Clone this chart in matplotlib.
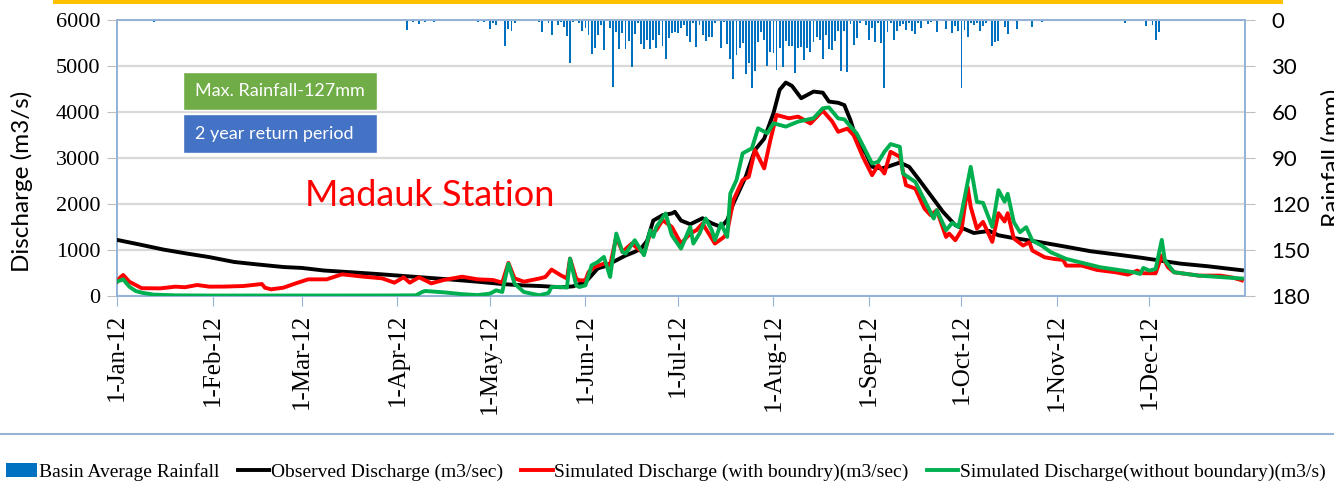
import matplotlib
matplotlib.use('Agg')
import matplotlib.pyplot as plt
import matplotlib.dates as mdates
from matplotlib.patches import Rectangle, Patch
from matplotlib.lines import Line2D
from matplotlib.font_manager import FontProperties
import pandas as pd

# ---------------- data (day offset from 1-Jan-2012, value) ----------------
obs_day = [0, 8, 15, 22, 30, 38, 45, 54, 60, 67, 75, 84, 92, 99, 108, 117, 125, 132, 138, 144,
           148, 150, 152, 154, 156, 158, 161, 165, 168, 170, 172, 174, 177, 180, 181, 183, 186,
           190, 193, 196, 198, 200, 204, 207, 210, 213, 215, 217, 219, 222, 226, 229, 231, 234,
           236, 238, 240, 243, 245, 248, 250, 254, 257, 260, 264, 268, 272, 278, 283, 286, 290,
           299, 308, 316, 324, 332, 339, 345, 354, 365]
obs_val = [1220, 1110, 1010, 930, 845, 740, 690, 630, 610, 555, 520, 480, 440, 405, 360, 311,
           260, 230, 215, 190, 210, 260, 300, 450, 600, 640, 740, 880, 960, 1030, 1200, 1640,
           1757, 1794, 1830, 1640, 1560, 1690, 1580, 1500, 1650, 2012, 2593, 3174, 3420, 3972,
           4481, 4640, 4568, 4300, 4444, 4420, 4227, 4200, 4150, 3820, 3390, 3100, 2810, 2770,
           2810, 2900, 2810, 2550, 2190, 1830, 1540, 1370, 1415, 1320, 1270, 1176, 1070, 972,
           905, 835, 765, 704, 646, 560]

sim_b_day = [0, 1, 2, 4, 8, 14, 19, 22, 26, 30, 35, 41, 47, 48, 50, 54, 58, 62, 68, 73, 80, 86,
             90, 93, 95, 98, 102, 106, 112, 117, 122, 125, 127, 129, 132, 137, 139, 141, 144,
             146, 147, 149, 150, 152, 153, 155, 158, 160, 162, 164, 167, 171, 173, 175, 177, 180,
             183, 186, 188, 190, 192, 194, 197, 198, 200, 203, 205, 207, 210, 212, 214, 218, 221,
             225, 229, 232, 234, 237, 239, 242, 245, 247, 249, 251, 254, 256, 259, 262, 264, 266,
             269, 270, 272, 274, 276, 277, 279, 281, 284, 286, 288, 289, 291, 294, 296, 297, 301,
             304, 307, 308, 313, 318, 324, 328, 331, 333, 337, 339, 341, 343, 351, 358, 362, 365]
sim_b_val = [310, 400, 457, 311, 170, 166, 203, 190, 239, 203, 205, 217, 261, 180, 145, 181, 275,
             362, 362, 471, 420, 384, 290, 406, 290, 406, 275, 348, 420, 362, 348, 290, 720, 384,
             311, 380, 414, 574, 450, 380, 813, 378, 341, 341, 520, 632, 704, 668, 1285, 959,
             1140, 922, 1358, 1431, 1649, 1503, 1140, 1358, 1431, 1576, 1358, 1140, 1285, 1394,
             2084, 2520, 2593, 3174, 2774, 3391, 3936, 3863, 3900, 3750, 4030, 3800, 3570, 3640,
             3498, 3026, 2627, 2845, 2663, 3135, 3026, 2409, 2337, 1901, 1756, 1865, 1284, 1357,
             1212, 1430, 2373, 1938, 1466, 1611, 1176, 1800, 1620, 1800, 1250, 1097, 1169, 988,
             842, 806, 784, 661, 661, 566, 516, 465, 552, 494, 494, 880, 625, 516, 443, 443, 400,
             340]

sim_nb_day = [0, 2, 4, 6, 8, 12, 19, 30, 50, 70, 90, 97, 99, 100, 106, 112, 117, 121, 123, 125,
              127, 129, 132, 137, 140, 141, 144, 146, 147, 149, 150, 152, 154, 156, 158, 160, 162,
              164, 165, 168, 171, 173, 174, 175, 178, 180, 183, 186, 187, 189, 191, 193, 194, 196,
              198, 199, 201, 203, 206, 208, 211, 213, 217, 221, 226, 229, 231, 234, 236, 240, 245,
              247, 249, 251, 254, 255, 259, 262, 265, 266, 269, 271, 273, 274, 277, 279, 281, 284,
              286, 288, 289, 291, 293, 295, 297, 300, 303, 308, 319, 330, 332, 333, 335, 337, 339,
              340, 343, 351, 365]
sim_nb_val = [311, 362, 203, 110, 72, 29, 14, 10, 10, 10, 12, 15, 87, 109, 80, 40, 20, 51, 123,
              87, 704, 269, 87, 15, 65, 196, 196, 182, 813, 232, 196, 232, 668, 741, 850, 414,
              1358, 959, 922, 1213, 886, 1431, 1285, 1503, 1794, 1322, 1031, 1503, 1140, 1358,
              1685, 1431, 1213, 1576, 1285, 2229, 2520, 3101, 3210, 3646, 3537, 3755, 3682, 3791,
              3863, 4081, 4100, 3861, 3839, 3534, 2881, 2917, 3135, 3302, 3244, 2663, 2482, 2083,
              1684, 1865, 1430, 1589, 1502, 1792, 2808, 2046, 2025, 1502, 2300, 2050, 2222, 1605,
              1387, 1496, 1205, 1097, 951, 806, 625, 516, 479, 610, 552, 588, 1220, 770, 516, 443,
              380]

rain_day = [12, 15, 63, 72, 94, 96, 98, 100, 103, 104, 117, 119, 121, 122, 123, 126, 127, 128,
            129, 137, 138, 140, 141, 143, 144, 145, 146, 147, 148, 150, 151, 152, 153, 154, 155,
            156, 157, 158, 160, 161, 162, 163, 164, 165, 166, 167, 168, 169, 170, 171, 172, 173,
            174, 175, 176, 177, 178, 179, 180, 181, 182, 183, 184, 185, 186, 187, 188, 189, 190,
            191, 192, 193, 194, 195, 196, 197, 198, 199, 200, 201, 202, 203, 204, 205, 206, 207,
            208, 209, 210, 211, 212, 213, 214, 215, 216, 217, 218, 219, 220, 221, 222, 223, 224,
            225, 226, 227, 228, 229, 230, 231, 232, 233, 234, 235, 236, 237, 238, 239, 240, 241,
            243, 244, 245, 246, 247, 248, 249, 250, 251, 252, 253, 254, 255, 256, 257, 258, 259,
            260, 261, 262, 263, 264, 265, 266, 268, 269, 271, 272, 273, 274, 275, 276, 277, 278,
            279, 280, 281, 282, 283, 284, 285, 286, 288, 289, 292, 297, 299, 300, 301, 310, 319,
            327, 333, 334, 335, 336, 337, 338]
rain_mm = [1.0, 0.7, 0.8, 0.8, 6.3, 1.0, 2.8, 1.0, 1.5, 0.7, 1.0, 1.5, 5.6, 2.0, 3.4, 17.0, 6.0,
           7.3, 2.0, 1.5, 8.0, 2.0, 9.8, 3.0, 1.5, 4.6, 10.6, 28.0, 1.5, 2.0, 7.3, 5.4, 10.0, 22.0,
           18.0, 9.5, 3.5, 19.6, 5.4, 43.5, 8.0, 19.0, 8.7, 19.0, 14.0, 30.4, 9.3, 2.2, 15.9, 19.1,
           13.0, 19.1, 13.0, 18.0, 9.8, 16.7, 25.6, 11.5, 8.7, 7.6, 8.3, 5.0, 3.3, 10.2, 14.1, 2.2,
           17.8, 3.3, 9.8, 13.5, 10.9, 10.9, 1.9, 0.3, 18.5, 1.5, 15.9, 25.6, 38.7, 22.8, 18.5,
           15.2, 35.4, 28.3, 44.5, 33.3, 14.1, 7.6, 13.0, 29.8, 20.7, 21.7, 32.6, 18.5, 30.9, 13.7,
           16.7, 16.7, 34.8, 18.0, 17.4, 26.3, 18.5, 20.7, 14.1, 10.9, 13.0, 25.6, 9.8, 18.9, 19.6,
           13.7, 7.1, 33.3, 7.1, 34.1, 2.8, 16.3, 11.5, 1.9, 3.3, 13.0, 5.0, 14.6, 1.9, 15.2, 44.1,
           8.0, 1.9, 13.3, 7.1, 3.7, 2.8, 6.5, 1.9, 7.1, 9.1, 2.2, 5.0, 0.65, 2.8, 1.1, 0.65, 8.0,
           0.65, 5.9, 8.3, 3.9, 7.1, 44.1, 6.5, 10.9, 1.9, 3.3, 1.9, 7.1, 3.9, 1.9, 0.65, 16.7,
           14.1, 13.5, 4.3, 9.1, 5.9, 4.8, 0.65, 1.1, 0.3, 0.4, 0.4, 1.9, 0.4, 3.9, 0.65, 3.3,
           13.0, 7.6]

discharge_ticks = [0, 1000, 2000, 3000, 4000, 5000, 6000]
rain_ticks = [0, 30, 60, 90, 120, 150, 180]
legend_labels = ["Basin Average Rainfall", "Observed Discharge (m3/sec)",
                 "Simulated Discharge (with boundry)(m3/sec)",
                 "Simulated Discharge(without boundary)(m3/s)"]
box_texts = ["Max. Rainfall-127mm", "2 year return period"]
station = "Madauk Station"

# ---------------- figure ----------------
serif = 'Liberation Serif'
sans = 'Lato'
plt.rcParams['font.family'] = [serif, 'DejaVu Serif']
spine_c = '#95B3D7'

start = pd.Timestamp('2012-01-01')
def to_dates(days):
    return start + pd.to_timedelta(days, unit='D')

W, H = 1334, 488
fig = plt.figure(figsize=(W / 100, H / 100), dpi=100)
ax2 = fig.add_axes([117 / W, 1 - 296 / H, (1245 - 117) / W, (296 - 20) / H])
ax = ax2.twinx()  # discharge axis drawn on top

# rainfall (secondary, inverted)
ax2.bar(to_dates(rain_day), rain_mm, width=0.62, color='#0070C0', zorder=2)
ax2.set_ylim(180, 0)
ax2.yaxis.tick_right()
ax2.set_yticks(rain_ticks, labels=[str(t) for t in rain_ticks],
               fontfamily=sans, fontsize=16)
ax2.grid(axis='y', color='#D9D9D9', linewidth=1.6, zorder=0)
ax2.set_axisbelow(True)

# discharge lines
ax.yaxis.tick_left()
ax.plot(to_dates(obs_day), obs_val, color='black', lw=2.8, zorder=3)
ax.plot(to_dates(sim_b_day), sim_b_val, color='#FF0000', lw=2.8, zorder=4)
ax.plot(to_dates(sim_nb_day), sim_nb_val, color='#00B050', lw=2.8, zorder=5)
ax.set_ylim(0, 6000)
ax.set_yticks(discharge_ticks, labels=[str(t) for t in discharge_ticks],
              fontfamily=serif, fontsize=16)

ax2.set_xlim(start, start + pd.Timedelta(days=366))
months = pd.date_range('2012-01-01', '2012-12-01', freq='MS')
ax2.set_xticks(months)
ax2.xaxis.set_major_formatter(mdates.DateFormatter('%-d-%b-%y'))

for a in (ax, ax2):
    for s in a.spines.values():
        s.set_color(spine_c)
        s.set_linewidth(1.3)

ax.tick_params(axis='y', which='major', length=7, color='#BFBFBF', pad=5)
ax2.tick_params(axis='y', which='major', length=7, color='#BFBFBF', pad=12)
ax2.tick_params(axis='x', which='major', length=7, color=spine_c, pad=6,
                labelsize=18, labelrotation=90)

# axis titles
fig.text(11 / W, 1 - 181 / H, "Discharge (m3/s)", rotation=90, ha='left', va='center',
         fontfamily=sans, fontsize=17.5)
fig.text(1321 / W, 1 - 158 / H, "Rainfall (mm)", rotation=90, ha='left', va='center',
         fontfamily=sans, fontsize=17.5)

# annotation boxes
fig.add_artist(Rectangle((183 / W, 1 - 110 / H), 194 / W, 38 / H, transform=fig.transFigure,
                         facecolor='#70AD47', edgecolor='white', lw=1))
fig.add_artist(Rectangle((183 / W, 1 - 153 / H), 194 / W, 39 / H, transform=fig.transFigure,
                         facecolor='#4472C4', edgecolor='white', lw=1))
fig.text(195 / W, 1 - 91 / H, box_texts[0], color='white', fontfamily=sans, fontsize=13,
         ha='left', va='center')
fig.text(195 / W, 1 - 134 / H, box_texts[1], color='white', fontfamily=sans, fontsize=13,
         ha='left', va='center')
fig.text(305 / W, 1 - 196 / H, station, color='#FF0000', fontfamily=sans, fontsize=26,
         ha='left', va='center')

# decorations
fig.add_artist(Rectangle((53 / W, 1 - 4 / H), 1230 / W, 4 / H, transform=fig.transFigure,
                         facecolor='#FFC000', edgecolor='none'))
fig.add_artist(Line2D([0, 1], [1 - 434 / H, 1 - 434 / H], transform=fig.transFigure,
                      color=spine_c, lw=1.5))

handles = [Patch(facecolor='#0070C0', edgecolor='none'),
           Line2D([], [], color='black', lw=2.8),
           Line2D([], [], color='#FF0000', lw=2.8),
           Line2D([], [], color='#00B050', lw=2.8)]
fig.legend(handles, legend_labels, loc='center', bbox_to_anchor=(666 / W, 1 - 472 / H),
           ncol=4, frameon=False, prop=FontProperties(family=serif, size=14),
           handlelength=1.6, handletextpad=0.1, columnspacing=0.95, borderpad=0)

fig.savefig('out.png', dpi=100)
